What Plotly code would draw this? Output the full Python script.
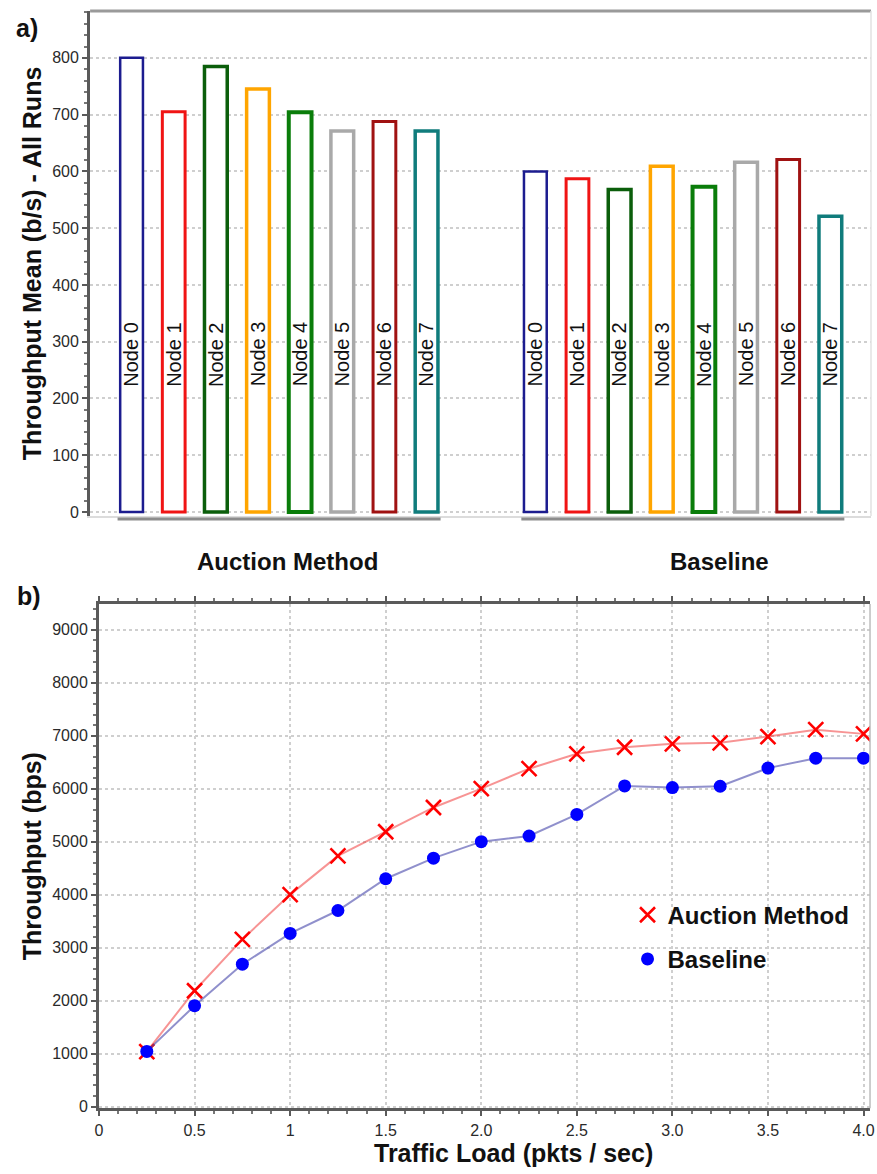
import plotly.graph_objects as go

# ---------------- data ----------------
groups = ["Auction Method", "Baseline"]
nodes = ["Node 0", "Node 1", "Node 2", "Node 3", "Node 4", "Node 5", "Node 6", "Node 7"]
auction_vals = [800, 705, 785, 745, 704, 671, 688, 671]
baseline_vals = [600, 587, 568, 609, 573, 616, 621, 521]
node_colors = ["#1c1c8f", "#f01414", "#0b5e0b", "#ffa500", "#0a7d0a", "#a9a9a9", "#a01212", "#107c7c"]
node_line_widths = [2.5, 3, 3.5, 3.5, 4, 3.5, 3, 3.5]

load = [0.25, 0.5, 0.75, 1.0, 1.25, 1.5, 1.75, 2.0, 2.25, 2.5, 2.75, 3.0, 3.25, 3.5, 3.75, 4.0]
auction_tp = [1040, 2188, 3158, 4002, 4733, 5189, 5647, 6004, 6379, 6660, 6784, 6848, 6867, 6985, 7116, 7036]
baseline_tp = [1043, 1906, 2689, 3270, 3702, 4302, 4690, 5002, 5109, 5516, 6053, 6023, 6047, 6390, 6578, 6578]
x_ticks = [0, 0.5, 1, 1.5, 2.0, 2.5, 3.0, 3.5, 4.0]
x_ticktext = ["0", "0.5", "1", "1.5", "2.0", "2.5", "3.0", "3.5", "4.0"]

W, H = 877, 1174
FONT = "Liberation Sans, Arial, Helvetica, sans-serif"
BARGAP = 0.165
BARGROUPGAP = 0.46

def px_x(p):
    return p / W

def px_y(p):
    return 1 - p / H

fig = go.Figure()

# ---------------- panel a: bars ----------------
for i, name in enumerate(nodes):
    fig.add_trace(go.Bar(
        x=[0, 1], y=[auction_vals[i], baseline_vals[i]],
        name=name, showlegend=False,
        marker=dict(color="white", line=dict(color=node_colors[i], width=node_line_widths[i])),
        xaxis="x", yaxis="y", hoverinfo="x+y+name",
    ))

slot = (1 - BARGAP) / len(nodes)
annotations = []
for g in range(len(groups)):
    for i, name in enumerate(nodes):
        annotations.append(dict(
            x=g + (i - (len(nodes) - 1) / 2) * slot, y=278, xref="x", yref="y",
            text=name, textangle=-90, showarrow=False,
            font=dict(family=FONT, size=20, color="#111111"),
        ))

annotations.append(dict(x=0, y=px_y(565), xref="x", yref="paper", xshift=8, yanchor="middle",
                        text="Auction Method", showarrow=False,
                        font=dict(family=FONT, size=24, color="#111111", weight="bold")))
annotations.append(dict(x=1, y=px_y(565), xref="x", yref="paper", xshift=37, yanchor="middle",
                        text="Baseline", showarrow=False,
                        font=dict(family=FONT, size=24, color="#111111", weight="bold")))

# ---------------- panel b: lines ----------------
fig.add_trace(go.Scatter(
    x=load, y=auction_tp, mode="lines+markers", name="Auction Method", showlegend=False,
    line=dict(color="rgba(240,60,60,0.55)", width=2),
    marker=dict(symbol="x-thin", size=15, line=dict(color="#ff0000", width=2.6), color="#ff0000"),
    xaxis="x2", yaxis="y2",
))
fig.add_trace(go.Scatter(
    x=load, y=baseline_tp, mode="lines+markers", name="Baseline", showlegend=False,
    line=dict(color="rgba(70,70,170,0.6)", width=2),
    marker=dict(symbol="circle", size=13, color="#0000ff"),
    xaxis="x2", yaxis="y2",
))
# legend entries (markers only)
fig.add_trace(go.Scatter(
    x=[None], y=[None], mode="markers", name="Auction Method", legendgroup="a",
    marker=dict(symbol="x-thin", size=15, line=dict(color="#ff0000", width=2.6), color="#ff0000"),
    xaxis="x2", yaxis="y2",
))
fig.add_trace(go.Scatter(
    x=[None], y=[None], mode="markers", name="Baseline", legendgroup="b",
    marker=dict(symbol="circle", size=13, color="#0000ff"),
    xaxis="x2", yaxis="y2",
))

annotations.append(dict(x=px_x(10), y=px_y(28), xref="paper", yref="paper", xanchor="left", yanchor="middle",
                        text="a)", showarrow=False,
                        font=dict(family=FONT, size=25, color="#111111", weight="bold")))
annotations.append(dict(x=px_x(11), y=px_y(600), xref="paper", yref="paper", xanchor="left", yanchor="middle",
                        text="b)", showarrow=False,
                        font=dict(family=FONT, size=25, color="#111111", weight="bold")))
annotations.append(dict(x=px_x(515), y=px_y(1160), xref="paper", yref="paper", yanchor="middle",
                        text="Traffic Load (pkts / sec)", showarrow=False,
                        font=dict(family=FONT, size=25, color="#111111", weight="bold")))

shapes = [
    # panel a frame
    dict(type="line", xref="x domain", yref="y domain", x0=0, x1=1, y0=1, y1=1,
         line=dict(color="#9a9a9a", width=3)),
    dict(type="line", xref="x domain", yref="y domain", x0=1, x1=1, y0=0, y1=1,
         line=dict(color="#e2e2e2", width=1.5)),
    # panel b right border
    dict(type="line", xref="x2 domain", yref="y2 domain", x0=1, x1=1, y0=0, y1=1,
         line=dict(color="#bdbdbd", width=1.5)),
]
for g in range(len(groups)):
    shapes.append(dict(type="line", xref="x", yref="paper", x0=g - 0.40, x1=g + 0.40,
                       y0=px_y(522), y1=px_y(522), line=dict(color="#8c8c8c", width=3)))

tickfont = dict(family=FONT, size=16, color="#2a2a2a")
titlefont = dict(family=FONT, size=25, color="#111111", weight="bold")

fig.update_layout(
    width=W, height=H,
    margin=dict(l=0, r=0, t=0, b=0),
    paper_bgcolor="white", plot_bgcolor="white",
    barmode="group", bargap=BARGAP, bargroupgap=BARGROUPGAP,
    annotations=annotations, shapes=shapes,
    legend=dict(x=px_x(630), y=px_y(898), xanchor="left", yanchor="top",
                bgcolor="rgba(0,0,0,0)", font=dict(family=FONT, size=24, color="#111111", weight="bold"),
                traceorder="grouped", tracegroupgap=10),
    xaxis=dict(domain=[px_x(87), px_x(876)], range=[-0.468, 1.466], anchor="y",
               showticklabels=False, showgrid=False, zeroline=False,
               showline=True, linecolor="#dcdcdc", linewidth=2, ticks=""),
    yaxis=dict(domain=[px_y(519), px_y(11)], range=[-7, 882.7], anchor="x",
               tickvals=[0, 100, 200, 300, 400, 500, 600, 700, 800],
               tickfont=tickfont, showgrid=True, gridcolor="#cfcfcf", griddash="dot", gridwidth=1.5,
               zeroline=False, showline=True, linecolor="#5a5a5a", linewidth=3,
               ticks="outside", ticklen=5, tickcolor="#5a5a5a", tickwidth=1.5,
               minor=dict(dtick=20, ticklen=3, tickcolor="#777777", ticks="outside", showgrid=False),
               title=dict(text="Throughput Mean (b/s) - All Runs", font=titlefont, standoff=4)),
    xaxis2=dict(domain=[px_x(96), px_x(875)], range=[0, 4.034], anchor="y2",
                tickvals=x_ticks, ticktext=x_ticktext, tickfont=tickfont, ticklabeloverflow="allow",
                showgrid=True, gridcolor="#cfcfcf", griddash="dot", gridwidth=1.5,
                zeroline=False, showline=True, linecolor="#5a5a5a", linewidth=3, mirror="allticks",
                ticks="outside", ticklen=5, tickcolor="#5a5a5a", tickwidth=1.5,
                minor=dict(dtick=0.1, ticklen=3, tickcolor="#777777", ticks="outside", showgrid=False)),
    yaxis2=dict(domain=[px_y(1115), px_y(607.7)], range=[-32, 9486], anchor="x2",
                tickvals=[0, 1000, 2000, 3000, 4000, 5000, 6000, 7000, 8000, 9000],
                tickfont=tickfont, showgrid=True, gridcolor="#cfcfcf", griddash="dot", gridwidth=1.5,
                zeroline=False, showline=True, linecolor="#5a5a5a", linewidth=3,
                ticks="outside", ticklen=5, tickcolor="#5a5a5a", tickwidth=1.5,
                minor=dict(dtick=200, ticklen=3, tickcolor="#777777", ticks="outside", showgrid=False),
                title=dict(text="Throughput (bps)", font=titlefont, standoff=4)),
)

fig.write_html("out.html")
